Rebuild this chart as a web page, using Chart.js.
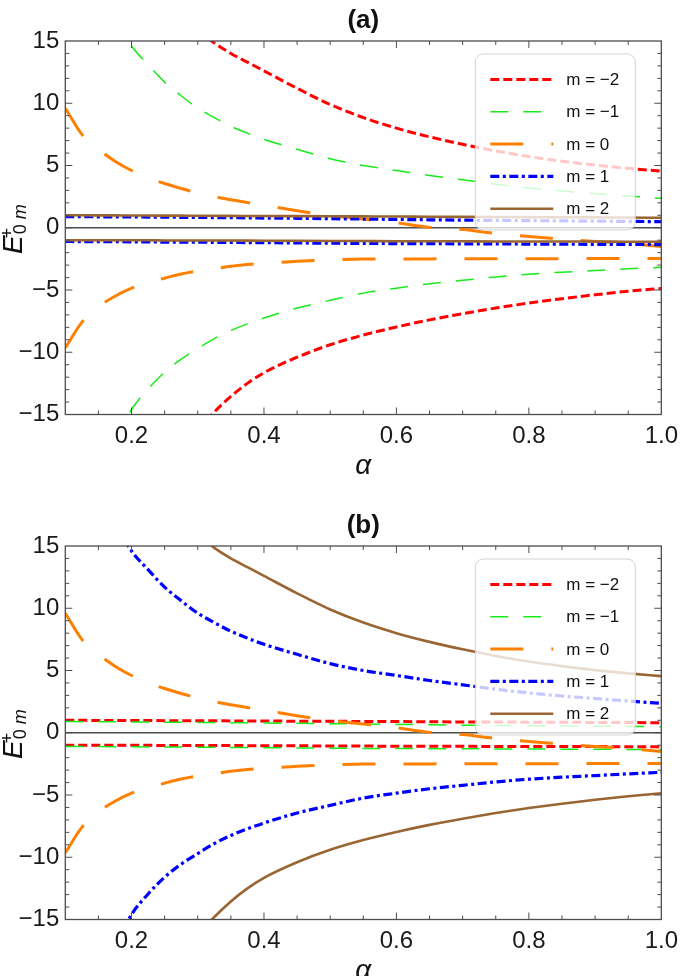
<!DOCTYPE html>
<html>
<head>
<meta charset="utf-8">
<script src="https://cdn.jsdelivr.net/npm/chart.js@4.4.1/dist/chart.umd.min.js"></script>
<style>
  html, body { margin: 0; padding: 0; background: #fff; }
  .panel { width: 685px; height: 505px; overflow: hidden; }
  .panel.b { height: 471px; }
  canvas { display: block; }
</style>
</head>
<body>
<div class="panel"><canvas id="chartA" width="685" height="505"></canvas></div>
<div class="panel b"><canvas id="chartB" width="685" height="505"></canvas></div>
<script>
// alpha grid (x) and the branches (y = E+_0m)
const alpha = [0.1, 0.125, 0.15, 0.175, 0.2, 0.225, 0.25, 0.275, 0.3, 0.325, 0.35, 0.375,
  0.4, 0.45, 0.5, 0.55, 0.6, 0.65, 0.7, 0.75, 0.8, 0.85, 0.9, 0.95, 1.0];

const outerUp = [null, null, null, null, null, null, null, null, 15.9, 14.85, 14.0, 13.3,
  12.6, 11.2, 9.9, 8.85, 8.0, 7.3, 6.7, 6.17, 5.72, 5.35, 5.03, 4.77, 4.55];
const outerLo = [null, null, null, null, null, null, null, null, -16.3, -14.8, -13.55, -12.5,
  -11.65, -10.4, -9.4, -8.62, -7.97, -7.4, -6.9, -6.45, -6.05, -5.7, -5.38, -5.1, -4.87];
const midUp = [null, null, null, 16.9, 14.6, 13.1, 11.7, 10.6, 9.6, 8.85, 8.15, 7.6,
  7.1, 6.3, 5.55, 5.0, 4.6, 4.2, 3.85, 3.5, 3.2, 2.95, 2.75, 2.55, 2.36];
const midLo = [null, null, null, -17.2, -14.6, -12.95, -11.6, -10.55, -9.7, -8.9, -8.25, -7.72,
  -7.25, -6.45, -5.83, -5.25, -4.85, -4.5, -4.22, -3.95, -3.73, -3.57, -3.44, -3.3, -3.18];
const zeroUp = [9.6, 7.5, 6.3, 5.35, 4.6, 4.0, 3.55, 3.15, 2.8, 2.5, 2.25, 2.02,
  1.8, 1.37, 0.98, 0.7, 0.4, 0.03, -0.15, -0.45, -0.7, -0.9, -1.1, -1.27, -1.5];
const zeroLo = [-9.64, -7.6, -6.35, -5.5, -4.85, -4.4, -4.05, -3.72, -3.48, -3.3, -3.1, -2.96,
  -2.85, -2.7, -2.58, -2.52, -2.5, -2.5, -2.49, -2.49, -2.48, -2.48, -2.47, -2.47, -2.46];
const flatBlueUp = [0.9, 0.89, 0.88, 0.88, 0.87, 0.86, 0.85, 0.84, 0.83, 0.82, 0.81, 0.795,
  0.78, 0.76, 0.73, 0.7, 0.67, 0.64, 0.61, 0.59, 0.57, 0.55, 0.53, 0.51, 0.49];
const flatBlueLo = [-1.1, -1.11, -1.11, -1.12, -1.13, -1.14, -1.15, -1.15, -1.16, -1.17, -1.18, -1.19,
  -1.2, -1.22, -1.24, -1.26, -1.27, -1.28, -1.29, -1.3, -1.31, -1.32, -1.33, -1.34, -1.35];
const flatBrownUp = [1.0, 1.0, 0.99, 0.99, 0.98, 0.98, 0.97, 0.97, 0.96, 0.96, 0.95, 0.945,
  0.94, 0.93, 0.92, 0.91, 0.9, 0.88, 0.87, 0.86, 0.85, 0.84, 0.83, 0.82, 0.8];
const flatBrownLo = [-1.0, -1.0, -1.0, -1.01, -1.01, -1.01, -1.02, -1.02, -1.02, -1.03, -1.03, -1.035,
  -1.04, -1.05, -1.06, -1.07, -1.08, -1.08, -1.09, -1.1, -1.1, -1.11, -1.11, -1.12, -1.12];

const mLabels = ["m = −2", "m = −1", "m = 0", "m = 1", "m = 2"];
// which branch pair belongs to each m, per panel
const panelA = [[outerUp, outerLo], [midUp, midLo], [zeroUp, zeroLo], [flatBlueUp, flatBlueLo], [flatBrownUp, flatBrownLo]];
const panelB = [[flatBrownUp, flatBrownLo], [flatBlueUp, flatBlueLo], [zeroUp, zeroLo], [midUp, midLo], [outerUp, outerLo]];

const xTicks = [0.2, 0.4, 0.6, 0.8, 1.0];
const yTicks = [-15, -10, -5, 0, 5, 10, 15];

const styles = [
  { color: "rgb(255,0,0)", width: 3, dash: [9, 4] },
  { color: "rgb(25,235,25)", width: 1.5, dash: [18, 15] },
  { color: "rgb(255,128,0)", width: 3, dash: [33, 28] },
  { color: "rgb(0,0,255)", width: 3.2, dash: [9, 3.5, 3, 3.5] },
  { color: "rgb(153,102,51)", width: 2.6, dash: [] },
];

const FONT = '"Liberation Sans", Arial, sans-serif';
Chart.defaults.font.family = FONT;
Chart.defaults.color = "#1a1a1a";

const framePlugin = {
  id: "frame",
  beforeDatasetsDraw(chart) {
    const { ctx, chartArea: a, scales } = chart;
    const y0 = scales.y.getPixelForValue(0);
    ctx.save();
    ctx.strokeStyle = "#4d4d4d";
    ctx.lineWidth = 1.6;
    ctx.beginPath();
    ctx.moveTo(a.left, y0);
    ctx.lineTo(a.right, y0);
    ctx.stroke();
    ctx.restore();
  },
  afterDatasetsDraw(chart, args, opts) {
    const { ctx, chartArea: a, scales } = chart;
    ctx.save();

    // legend box over the curves
    const bx = a.right - 186, by = 54, bw = 160, bh = 176;
    ctx.beginPath();
    ctx.roundRect(bx, by, bw, bh, 8);
    ctx.fillStyle = "rgba(255,255,255,0.78)";
    ctx.fill();
    ctx.strokeStyle = "rgba(205,205,205,0.9)";
    ctx.lineWidth = 1;
    ctx.stroke();
    styles.forEach((s, i) => {
      const ly = 79.5 + i * 32.3;
      ctx.beginPath();
      ctx.setLineDash(s.dash);
      ctx.lineWidth = s.width;
      ctx.strokeStyle = s.color;
      ctx.moveTo(bx + 15, ly);
      ctx.lineTo(bx + 78, ly);
      ctx.stroke();
      ctx.setLineDash([]);
      ctx.fillStyle = "#111";
      ctx.font = "17px " + FONT;
      ctx.textBaseline = "middle";
      ctx.textAlign = "left";
      ctx.fillText(mLabels[i], bx + 91, ly + 1);
    });

    // frame with inward ticks on all sides
    ctx.setLineDash([]);
    ctx.strokeStyle = "#4d4d4d";
    ctx.lineWidth = 1.3;
    ctx.strokeRect(a.left, a.top, a.right - a.left, a.bottom - a.top);
    ctx.lineWidth = 1;
    ctx.beginPath();
    for (let k = 1; k < 18; k++) {
      const v = 0.1 + 0.05 * k;
      const major = Math.abs(v * 5 - Math.round(v * 5)) < 1e-6;
      const len = major ? 7 : 4;
      const px = scales.x.getPixelForValue(v);
      ctx.moveTo(px, a.bottom); ctx.lineTo(px, a.bottom - len);
      ctx.moveTo(px, a.top); ctx.lineTo(px, a.top + len);
    }
    for (let v = -14; v <= 14; v++) {
      const len = v % 5 === 0 ? 7 : 4;
      const py = scales.y.getPixelForValue(v);
      ctx.moveTo(a.left, py); ctx.lineTo(a.left + len, py);
      ctx.moveTo(a.right, py); ctx.lineTo(a.right - len, py);
    }
    ctx.stroke();

    // panel title
    const cx = (a.left + a.right) / 2;
    ctx.fillStyle = "#111";
    ctx.textAlign = "center";
    ctx.textBaseline = "middle";
    ctx.font = "bold 26px " + FONT;
    ctx.fillText(opts.title, cx, 21);

    // x axis title
    ctx.font = "italic 28px " + FONT;
    ctx.fillText("α", cx, 466);

    // y axis title E^+_{0 m}
    ctx.translate(22, 254);
    ctx.rotate(-Math.PI / 2);
    ctx.textAlign = "left";
    ctx.textBaseline = "alphabetic";
    ctx.font = "italic 28px " + FONT;
    ctx.fillText("E", 0, 0);
    const ew = ctx.measureText("E").width;
    ctx.font = "18px " + FONT;
    ctx.fillText("+", ew - 3, -9);
    ctx.fillText("0", ew + 1, 4);
    const zw = ctx.measureText("0 ").width;
    ctx.font = "italic 18px " + FONT;
    ctx.fillText("m", ew + 1 + zw, 4);
    ctx.restore();
  },
};

function makeChart(id, panel, title) {
  const datasets = [];
  panel.forEach((pair, i) => {
    pair.forEach((branch) => {
      datasets.push({
        label: mLabels[i],
        data: alpha.map((a, j) => ({ x: a, y: branch[j] })),
        borderColor: styles[i].color,
        borderWidth: styles[i].width,
        borderDash: styles[i].dash,
        pointRadius: 0,
        fill: false,
        cubicInterpolationMode: "monotone",
        spanGaps: false,
        order: 4 - i,
      });
    });
  });

  new Chart(document.getElementById(id), {
    type: "line",
    data: { datasets },
    plugins: [framePlugin],
    options: {
      responsive: false,
      animation: false,
      devicePixelRatio: 1,
      layout: { padding: { top: 41, right: 17, left: 0, bottom: 0 } },
      plugins: {
        legend: { display: false },
        tooltip: { enabled: false },
        frame: { title },
      },
      scales: {
        x: {
          type: "linear",
          min: 0.1,
          max: 1.0,
          grid: { display: false, drawTicks: false },
          border: { display: false },
          afterBuildTicks: (s) => { s.ticks = xTicks.map((v) => ({ value: v })); },
          afterFit: (s) => { s.height = 90.5; },
          ticks: {
            padding: 7,
            maxRotation: 0,
            font: { size: 24 },
            color: "#1a1a1a",
            callback: (v) => Number(v).toFixed(1),
          },
        },
        y: {
          min: -15,
          max: 15,
          grid: { display: false, drawTicks: false },
          border: { display: false },
          afterBuildTicks: (s) => { s.ticks = yTicks.map((v) => ({ value: v })); },
          afterFit: (s) => { s.width = 65.3; },
          ticks: {
            padding: 6,
            font: { size: 24 },
            color: "#1a1a1a",
            callback: (v) => (v < 0 ? "−" + Math.abs(v) : String(v)),
          },
        },
      },
    },
  });
}

makeChart("chartA", panelA, "(a)");
makeChart("chartB", panelB, "(b)");
</script>
</body>
</html>
